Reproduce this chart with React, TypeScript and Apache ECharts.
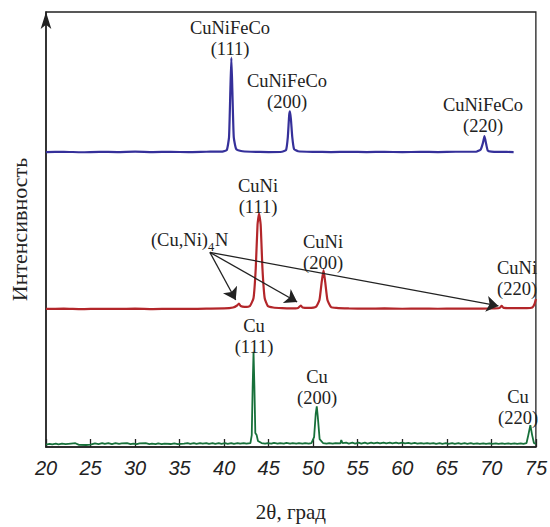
import React, { useEffect, useRef } from "react";
import * as echarts from "echarts";

// 2θ (degrees) and intensity (arbitrary units, traces stacked with offsets)
const xTicks = [20, 25, 30, 35, 40, 45, 50, 55, 60, 65, 70, 75];

const cuNiFeCo: [number, number][] = [
  [20, 297], [22, 297.3], [24, 296.8], [26, 297.2], [28, 297], [30, 297.4], [32, 297], [34, 297.2],
  [36, 296.9], [38, 297.3], [39.8, 297.5], [40.3, 299], [40.55, 312], [40.7, 360], [40.81, 392],
  [40.92, 360], [41.08, 312], [41.35, 300], [41.9, 298], [43, 297.3], [45, 297], [46.5, 297.3],
  [46.95, 299], [47.15, 312], [47.3, 334], [47.39, 338], [47.5, 330], [47.65, 312], [47.85, 300],
  [48.3, 297.8], [50, 297.2], [52, 297], [54, 297.3], [56, 297], [58, 297.2], [60, 296.9], [62, 297.2],
  [64, 297], [66, 297.3], [68.3, 297.3], [68.8, 299.5], [69.05, 306], [69.23, 313], [69.42, 305],
  [69.6, 298.5], [70, 297.5], [71, 297.2], [72.5, 297],
];

const cuNi: [number, number][] = [
  [20, 139], [22, 139.3], [24, 138.8], [26, 139.2], [28, 139], [30, 139.3], [32, 138.9], [34, 139.2],
  [36, 139], [38, 139.3], [40, 139.5], [41, 140.5], [41.45, 142.5], [41.66, 144.5], [41.85, 142],
  [42.3, 141], [42.9, 142], [43.3, 150], [43.55, 180], [43.75, 224], [43.92, 235], [44.1, 224],
  [44.3, 180], [44.55, 150], [44.9, 142], [45.5, 140.5], [46.5, 139.8], [47.5, 139.5], [48.3, 140],
  [48.6, 142.5], [48.8, 140.5], [49.5, 140], [50.3, 141], [50.7, 148], [50.95, 166], [51.16, 178],
  [51.35, 166], [51.6, 148], [52, 141], [52.6, 140], [54, 139.5], [56, 139.3], [58, 139.5], [60, 139.2],
  [62, 139.4], [64, 139.2], [66, 139.4], [68, 139.3], [70, 139.5], [70.9, 140], [71.16, 142],
  [71.4, 140], [72.5, 139.8], [74, 139.8], [74.6, 140.5], [74.85, 144], [75, 149],
];

const cu: [number, number][] = [
  [20, 2.5], [20.4, 3.2], [20.7, 2.6], [21.1, 3.4], [21.4, 2.6], [21.8, 3.5], [22.2, 2.8], [22.8, 3.4],
  [23.3, 3.8], [23.7, 2.2], [24.5, 2], [25, 2.3], [25.5, 3.7], [25.9, 3], [26.3, 3.9], [26.6, 3.1],
  [27, 3.9], [27.4, 3], [27.8, 3.9], [28.2, 3.1], [28.5, 3.6], [29.1, 3.9], [29.5, 2.9], [29.8, 3.5],
  [30.2, 2.9], [30.5, 3.6], [31.2, 3.9], [31.6, 3], [31.9, 3.5], [32.3, 2.9], [32.6, 3.7], [33, 2.9],
  [33.3, 3.5], [34, 3], [34.4, 3.6], [34.8, 2.8], [35.5, 3.3], [35.9, 3.9], [36.2, 3.2], [36.6, 4],
  [36.9, 3.2], [37.3, 4], [37.6, 3.3], [38, 3.9], [38.3, 3.1], [38.7, 3.8], [39, 3.1], [39.4, 3.9],
  [39.7, 3.1], [40.1, 3.8], [40.4, 3.2], [40.8, 3.9], [41.1, 3.2], [41.5, 3.9], [41.8, 3.3], [42.2, 3.9],
  [42.5, 3.3], [42.95, 4], [43.1, 12], [43.2, 60], [43.3, 96], [43.4, 60], [43.5, 14], [43.65, 12],
  [43.8, 6], [44.2, 4], [44.6, 3.3], [44.9, 4], [45.3, 3.3], [45.6, 4.1], [46, 3.3], [46.3, 4], [46.7, 3.3],
  [47, 4.1], [47.4, 3.4], [47.7, 4], [48.1, 3.3], [48.4, 4], [48.8, 3.3], [49.1, 3.9], [49.5, 3.3],
  [49.8, 4], [50.1, 10], [50.28, 33], [50.4, 41], [50.52, 30], [50.72, 8], [51.1, 4], [51.5, 3.4],
  [51.8, 4], [52.2, 3.4], [52.5, 4], [53.05, 3.6], [53.15, 7], [53.3, 3.8], [53.7, 4.3], [54, 3.5],
  [54.4, 4.3], [54.7, 3.5], [55.1, 4.3], [55.4, 3.5], [55.8, 4.3], [56.1, 3.5], [56.5, 4.3], [56.8, 3.6],
  [57.2, 4.3], [57.5, 3.6], [57.9, 4.4], [58.2, 3.6], [58.6, 4.3], [58.9, 3.6], [59.3, 4.3], [59.6, 3.7],
  [60, 4.3], [60.3, 3.7], [60.7, 4.2], [61, 3.5], [61.4, 4.1], [61.7, 3.4], [62.1, 4], [62.4, 3.3],
  [62.8, 4], [63.1, 3.3], [63.5, 3.9], [63.8, 3.2], [64.2, 3.9], [64.5, 3.2], [64.9, 3.8], [65.2, 3.2],
  [65.6, 3.8], [65.9, 3.2], [66.3, 3.8], [66.6, 3.2], [67, 3.8], [67.3, 3.2], [67.7, 3.8], [68, 3.1],
  [68.4, 3.7], [68.7, 3.1], [69.1, 3.7], [69.4, 3.1], [69.8, 3.7], [70.1, 3.1], [70.5, 3.7], [70.8, 3.1],
  [71.2, 3.7], [71.5, 3.1], [71.9, 3.6], [72.2, 3.1], [72.6, 3.6], [72.9, 3.1], [73.3, 3.6], [73.6, 3.1],
  [73.95, 4], [74.15, 12], [74.38, 22], [74.58, 12], [74.78, 4], [75, 3],
];

// arrows from the (Cu,Ni)4N label to the minor peaks: [start, end] in data units
const arrowStart: [number, number] = [38.4, 196];
const arrowEnds: [number, number][] = [[41.3, 148], [48.2, 146], [70.8, 142]];

const peakLabels: { text: string; x: number; y: number }[] = [
  { text: "CuNiFeCo\n(111)", x: 230, y: 38 },
  { text: "CuNiFeCo\n(200)", x: 287, y: 91 },
  { text: "CuNiFeCo\n(220)", x: 483, y: 115 },
  { text: "CuNi\n(111)", x: 258, y: 196 },
  { text: "CuNi\n(200)", x: 323, y: 252 },
  { text: "CuNi\n(220)", x: 517, y: 278 },
  { text: "Cu\n(111)", x: 254, y: 336 },
  { text: "Cu\n(200)", x: 317, y: 387 },
  { text: "Cu\n(220)", x: 518, y: 407 },
];

const SERIF = "'Liberation Serif', 'DejaVu Serif', serif";

export default function App() {
  const ref = useRef<HTMLDivElement>(null);

  useEffect(() => {
    document.body.style.margin = "0";
    const chart = echarts.init(ref.current!, null, { renderer: "svg" });
    const labelFont = { fontFamily: SERIF, fontSize: 18.5, fill: "#222" };

    chart.setOption({
      animation: false,
      backgroundColor: "#fff",
      grid: {
        left: 43, right: 11, top: 12, bottom: 77,
        show: true, borderColor: "#222", borderWidth: 1.3, backgroundColor: "transparent",
      },
      xAxis: {
        type: "value", min: 20, max: 75, interval: 5,
        name: "2θ, град", nameLocation: "middle", nameGap: 54,
        nameTextStyle: { fontFamily: SERIF, fontSize: 21, color: "#222" },
        axisLine: { lineStyle: { color: "#222", width: 1.5 } },
        axisTick: { inside: true, length: 8, lineStyle: { color: "#222", width: 1.3 } },
        axisLabel: {
          margin: 11, fontFamily: "'Liberation Sans', Arial, sans-serif", fontStyle: "italic",
          fontSize: 20, color: "#222",
          formatter: (v: number) => (xTicks.includes(v) ? String(v) : ""),
        },
        splitLine: { show: false },
      },
      yAxis: {
        type: "value", min: 0, max: 438,
        name: "Интенсивность", nameLocation: "middle", nameGap: 16, nameRotate: 90,
        nameTextStyle: { fontFamily: SERIF, fontSize: 22, color: "#222" },
        axisLine: {
          show: true, symbol: ["none", "arrow"], symbolSize: [8, 17],
          lineStyle: { color: "#222", width: 1.5 },
        },
        axisTick: { show: false },
        axisLabel: { show: false },
        splitLine: { show: false },
      },
      series: [
        {
          type: "line", data: cuNiFeCo, showSymbol: false, smooth: 0.15,
          lineStyle: { color: "#35309a", width: 2.2 }, z: 3,
        },
        {
          type: "line", data: cuNi, showSymbol: false, smooth: 0.15,
          lineStyle: { color: "#b3262a", width: 2.2 }, z: 3,
        },
        {
          type: "line", data: cu, showSymbol: false,
          lineStyle: { color: "#17703a", width: 1.8 }, z: 3,
        },
        {
          type: "lines", coordinateSystem: "cartesian2d", z: 4,
          symbol: ["none", "arrow"], symbolSize: [8, 12],
          lineStyle: { color: "#222", width: 1.3, opacity: 1 },
          data: arrowEnds.map((e) => ({ coords: [arrowStart, e] })),
        },
      ],
      graphic: [
        ...peakLabels.map((l) => ({
          type: "text", x: l.x, y: l.y, z: 10,
          style: { ...labelFont, text: l.text, align: "center", verticalAlign: "middle", lineHeight: 21 },
        })),
        {
          type: "text", x: 208, y: 240, z: 10,
          style: { ...labelFont, text: "(Cu,Ni)", align: "right", verticalAlign: "middle" },
        },
        {
          type: "text", x: 208, y: 247, z: 10,
          style: { ...labelFont, fontSize: 12.5, text: "4", align: "left", verticalAlign: "middle" },
        },
        {
          type: "text", x: 215, y: 240, z: 10,
          style: { ...labelFont, text: "N", align: "left", verticalAlign: "middle" },
        },
      ],
    });
    return () => chart.dispose();
  }, []);

  return <div ref={ref} style={{ width: 550, height: 527 }} />;
}
